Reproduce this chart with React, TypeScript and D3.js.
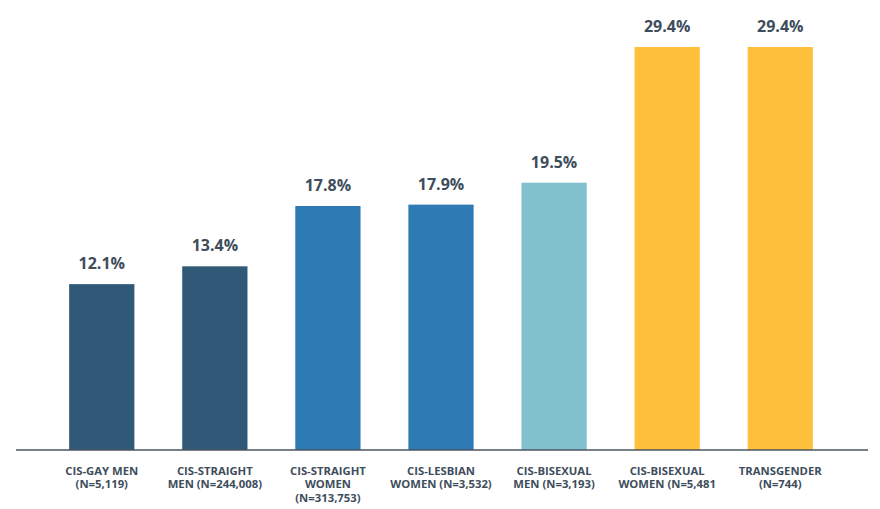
import React, { useRef, useEffect } from 'react';
import * as d3 from 'd3';

const categories = [
  ['CIS-GAY MEN', '(N=5,119)'],
  ['CIS-STRAIGHT', 'MEN (N=244,008)'],
  ['CIS-STRAIGHT', 'WOMEN', '(N=313,753)'],
  ['CIS-LESBIAN', 'WOMEN (N=3,532)'],
  ['CIS-BISEXUAL', 'MEN (N=3,193)'],
  ['CIS-BISEXUAL', 'WOMEN (N=5,481'],
  ['TRANSGENDER', '(N=744)'],
];
const values = [12.1, 13.4, 17.8, 17.9, 19.5, 29.4, 29.4];
const groups = ['men', 'men', 'women', 'women', 'bi', 'other', 'other'];

const App = () => {
  const ref = useRef(null);

  useEffect(() => {
    const svg = d3.select(ref.current);
    svg.selectAll('*').remove();

    const baseline = 450;
    const textColor = '#3e4d5b';
    const font = '"Open Sans", sans-serif';

    const keys = categories.map((c, i) => String(i));
    const x = d3.scaleBand().domain(keys).range([16, 866]).paddingInner(0.423).paddingOuter(0.47);
    const y = d3.scaleLinear().domain([0, 29.4]).range([baseline, 47]);
    const color = d3
      .scaleOrdinal()
      .domain(['men', 'women', 'bi', 'other'])
      .range(['#305877', '#2e7ab4', '#80c1cd', '#ffc13b']);

    const g = svg.append('g');

    g.selectAll('.bar')
      .data(values)
      .enter()
      .append('rect')
      .attr('x', (d, i) => x(keys[i]))
      .attr('y', (d) => y(d))
      .attr('width', x.bandwidth())
      .attr('height', (d) => baseline - y(d))
      .attr('fill', (d, i) => color(groups[i]));

    g.selectAll('.val')
      .data(values)
      .enter()
      .append('text')
      .attr('x', (d, i) => x(keys[i]) + x.bandwidth() / 2)
      .attr('y', (d) => y(d) - 15)
      .attr('text-anchor', 'middle')
      .attr('font-family', font)
      .attr('font-weight', 700)
      .attr('font-size', 16)
      .attr('fill', textColor)
      .text((d) => d.toFixed(1) + '%');

    g.append('line')
      .attr('x1', 16)
      .attr('x2', 868)
      .attr('y1', baseline)
      .attr('y2', baseline)
      .attr('stroke', '#4a5561')
      .attr('stroke-width', 1.5);

    const labels = g
      .selectAll('.lab')
      .data(categories)
      .enter()
      .append('text')
      .attr('text-anchor', 'middle')
      .attr('font-family', font)
      .attr('font-weight', 700)
      .attr('font-size', 11.3)
      .attr('fill', textColor);

    labels
      .selectAll('tspan')
      .data((d, i) => d.map((line) => ({ line, i })))
      .enter()
      .append('tspan')
      .attr('x', (d) => x(keys[d.i]) + x.bandwidth() / 2)
      .attr('y', (d, j) => 475 + j * 13.3)
      .text((d) => d.line);
  }, []);

  return (
    <svg
      ref={ref}
      width={880}
      height={509}
      style={{ position: 'absolute', left: 0, top: 0, background: '#fff' }}
    />
  );
};

export default App;
